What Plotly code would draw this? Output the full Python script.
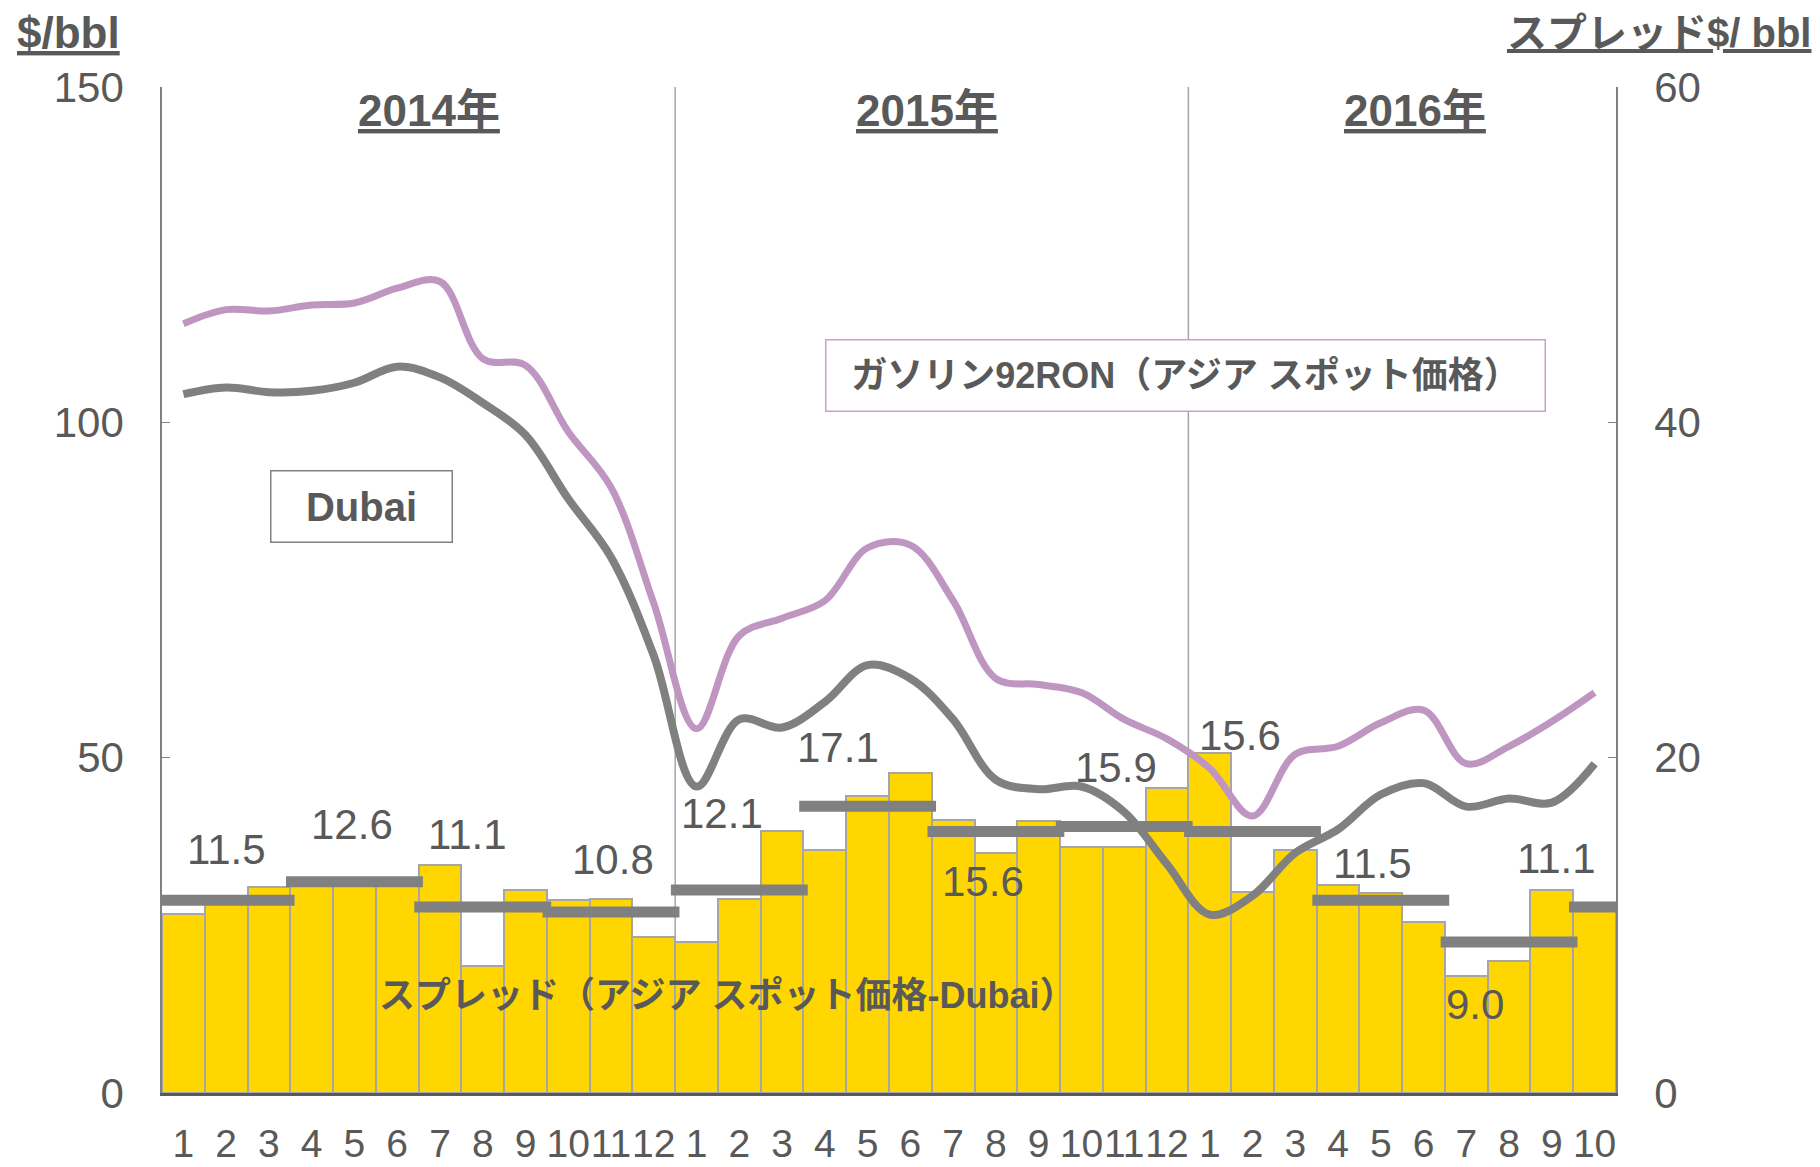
import plotly.graph_objects as go

# ---------------- data ----------------
years = ["2014年", "2015年", "2016年"]
months = [str(m) for m in range(1, 13)] + [str(m) for m in range(1, 13)] + [str(m) for m in range(1, 11)]

spread = [10.7, 11.4, 12.3, 12.5, 12.5, 12.6, 13.6, 7.6, 12.1, 11.5, 11.6, 9.3,
          9.0, 11.6, 15.6, 14.5, 17.7, 19.1, 16.3, 14.3, 16.2, 14.7, 14.7, 18.2,
          20.3, 12.0, 14.5, 12.4, 11.9, 10.2, 7.0, 7.9, 12.1, 11.1]

gasoline = [114.7, 116.8, 116.6, 117.5, 117.8, 120.0, 121.0, 109.5, 108.5, 98.6, 90.3, 73.0,
            54.3, 68.2, 70.8, 73.4, 81.3, 81.7, 73.4, 61.8, 60.9, 59.7, 55.7, 52.8,
            48.4, 41.3, 50.5, 51.7, 55.2, 57.1, 49.1, 51.7, 55.4, 59.7]

dubai = [104.2, 105.2, 104.5, 104.7, 105.9, 108.3, 106.7, 102.9, 98.1, 88.6, 79.9, 65.2,
         45.7, 55.7, 54.5, 58.3, 63.8, 61.8, 55.7, 46.7, 45.3, 45.7, 41.9, 34.1,
         26.6, 29.4, 35.8, 39.3, 44.5, 46.2, 42.7, 43.9, 43.3, 49.1]

quarter_avg = [11.5, 12.6, 11.1, 10.8, 12.1, 17.1, 15.6, 15.9, 15.6, 11.5, 9.0, 11.1]
quarter_text = ["11.5", "12.6", "11.1", "10.8", "12.1", "17.1", "15.6", "15.9", "15.6", "11.5", "9.0", "11.1"]
quarter_span = [(0, 2), (3, 5), (6, 8), (9, 11), (12, 14), (15, 17), (18, 20), (21, 23),
                (24, 26), (27, 29), (30, 32), (33, 33)]

# ---------------- label placement (layout only) ----------------
label_dx = [0.0, -0.05, -0.35, 0.05, -0.4, -0.7, -0.3, -0.2, -0.3, -0.2, -0.8, -0.9]
label_dy = [3.0, 3.4, 4.3, 3.1, 4.6, 3.5, -3.0, 3.5, 5.7, 2.2, -3.7, 2.9]
year_x = [5.75, 17.4, 28.8]

TXT = "#595959"
FONT = "Liberation Sans, Arial, Noto Sans CJK JP, sans-serif"
JFONT = "Liberation Sans, Noto Sans CJK JP, sans-serif"

idx = list(range(len(months)))

fig = go.Figure()

fig.add_trace(go.Bar(
    x=idx, y=spread, yaxis="y",
    marker=dict(color="#FFD600", line=dict(color="#A6A6A6", width=2)),
    showlegend=False, hoverinfo="skip"))

seg_x, seg_y = [], []
for (s, e), v in zip(quarter_span, quarter_avg):
    seg_x += [s - 0.6, e + 0.6, None]
    seg_y += [v, v, None]
fig.add_trace(go.Scatter(x=seg_x, y=seg_y, yaxis="y", mode="lines",
                         line=dict(color="#808080", width=11),
                         showlegend=False, hoverinfo="skip"))

fig.add_trace(go.Scatter(x=idx, y=gasoline, yaxis="y2", mode="lines",
                         line=dict(color="#BF95C1", width=7, shape="spline", smoothing=1.0),
                         showlegend=False))
fig.add_trace(go.Scatter(x=idx, y=dubai, yaxis="y2", mode="lines",
                         line=dict(color="#808080", width=8, shape="spline", smoothing=1.0),
                         showlegend=False))

ann = []
for (s, e), v, t, dx, dy in zip(quarter_span, quarter_avg, quarter_text, label_dx, label_dy):
    ann.append(dict(x=(s + e) / 2 + dx, y=v + dy, xref="x", yref="y", text=t,
                    showarrow=False, font=dict(family=FONT, size=42, color=TXT)))

for yx, yt in zip(year_x, years):
    ann.append(dict(x=yx, y=0.977, xref="x", yref="paper", text=yt, showarrow=False,
                    yanchor="middle",
                    font=dict(family=JFONT, size=44, color=TXT, weight="bold", lineposition="under")))

ann.append(dict(x=0.0, y=1.054, xref="paper", yref="paper", text="$/bbl", showarrow=False,
                xanchor="right", yanchor="middle", xshift=-40,
                font=dict(family=FONT, size=44, color=TXT, weight="bold", lineposition="under")))
ann.append(dict(x=1.0, y=1.054, xref="paper", yref="paper", text="スプレッド$/ bbl", showarrow=False,
                xanchor="right", yanchor="middle", xshift=197,
                font=dict(family=JFONT, size=40, color=TXT, weight="bold", lineposition="under")))

ann.append(dict(x=4.16, y=87.5, xref="x", yref="y2", text="Dubai", showarrow=False,
                width=172, height=62, borderpad=4, bgcolor="white",
                bordercolor="#808080", borderwidth=1.5,
                font=dict(family=FONT, size=40, color=TXT, weight="bold")))
ann.append(dict(x=23.44, y=107.0, xref="x", yref="y2", text="ガソリン92RON（アジア スポット価格）",
                showarrow=False, width=710, height=62, borderpad=4, bgcolor="white",
                bordercolor="#C9A0CB", borderwidth=1.5,
                font=dict(family=JFONT, size=36, color=TXT, weight="bold")))
ann.append(dict(x=12.73, y=5.8, xref="x", yref="y", text="スプレッド（アジア スポット価格-Dubai）",
                showarrow=False, font=dict(family=JFONT, size=36, color=TXT, weight="bold")))

shapes = []
for b in (11.5, 23.5):
    shapes.append(dict(type="line", xref="x", yref="paper", x0=b, x1=b, y0=0, y1=1,
                       line=dict(color="#A6A6A6", width=1.5), layer="below"))

fig.update_layout(
    width=1812, height=1159,
    margin=dict(l=154, r=204, t=79, b=74),
    paper_bgcolor="white", plot_bgcolor="white",
    bargap=0,
    showlegend=False,
    annotations=ann, shapes=shapes,
    xaxis=dict(range=[-0.5, len(months) - 0.5], tickmode="array", tickvals=idx, ticktext=months,
               showgrid=False, zeroline=False, showline=True, linecolor=TXT, linewidth=3,
               ticks="", ticklabelstandoff=14, tickangle=0, automargin=False,
               tickfont=dict(family=FONT, size=39, color=TXT)),
    yaxis=dict(range=[0, 60], tickvals=[0, 20, 40, 60], side="right",
               showgrid=False, zeroline=False, showline=True, linecolor="#808080", linewidth=1.5,
               ticks="inside", ticklen=8, tickcolor="#808080", ticklabelstandoff=28, automargin=False,
               tickfont=dict(family=FONT, size=42, color=TXT)),
    yaxis2=dict(range=[0, 150], tickvals=[0, 50, 100, 150], side="left", overlaying="y",
                showgrid=False, zeroline=False, showline=True, linecolor="#808080", linewidth=1.5,
                ticks="inside", ticklen=8, tickcolor="#808080", ticklabelstandoff=28, automargin=False,
                tickfont=dict(family=FONT, size=42, color=TXT)),
)

fig.write_html("out.html")
